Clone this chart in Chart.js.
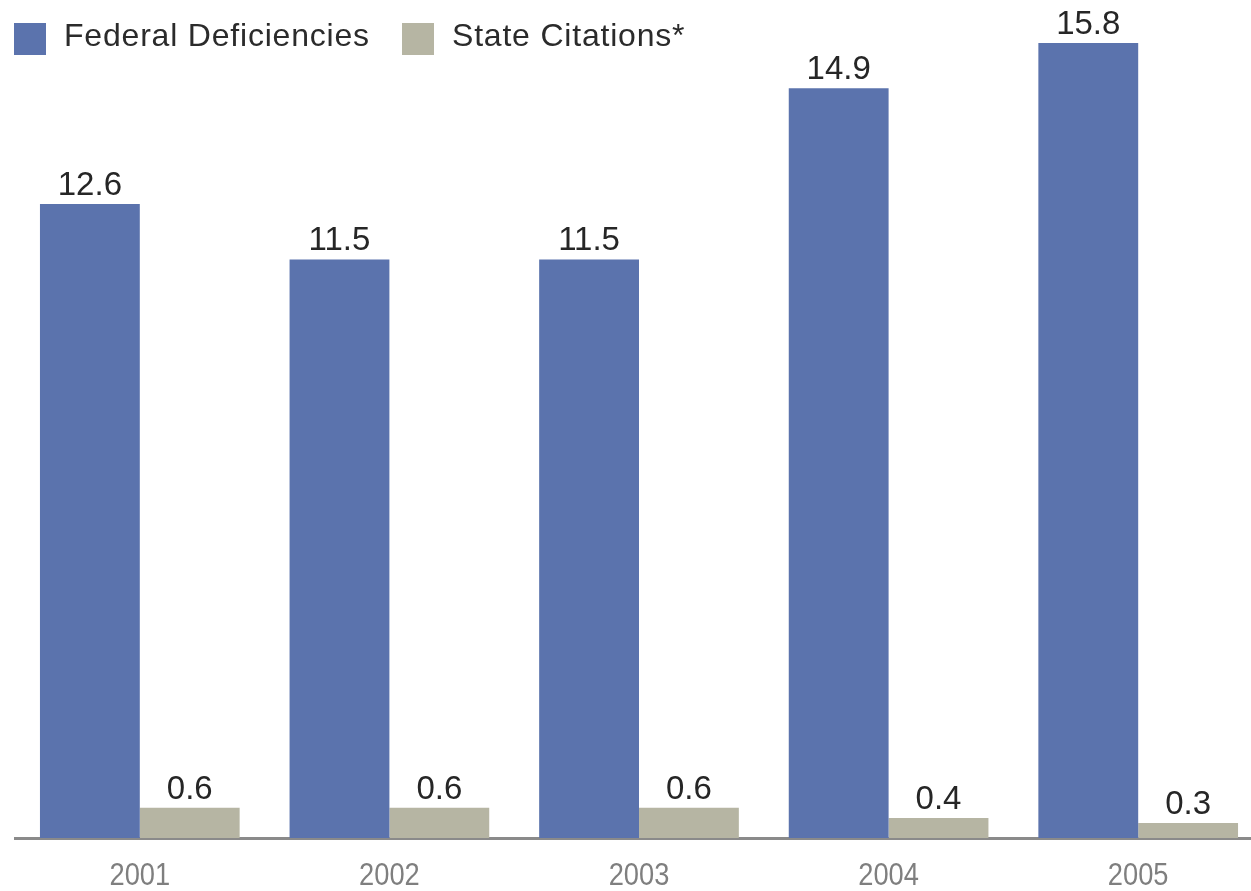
<!DOCTYPE html>
<html>
<head>
<meta charset="utf-8">
<script src="https://cdn.jsdelivr.net/npm/chart.js@4.4.0/dist/chart.umd.min.js"></script>
<style>
  html, body { margin: 0; padding: 0; background: #fff; overflow: hidden; }
  #wrap { width: 1263px; height: 891px; }
</style>
</head>
<body>
<div id="wrap"><canvas id="citations-chart"></canvas></div>
<script>
const years = ["2001", "2002", "2003", "2004", "2005"];
const federalDeficiencies = [12.6, 11.5, 11.5, 14.9, 15.8];
const stateCitations = [0.6, 0.6, 0.6, 0.4, 0.3];
const seriesNames = ["Federal Deficiencies", "State Citations*"];

const barColors = ["#5b73ad", "#b6b5a3"];

// value printed above every bar
const barValues = {
  id: "barValues",
  afterDatasetsDraw(chart) {
    const { ctx } = chart;
    ctx.save();
    ctx.textAlign = "center";
    ctx.textBaseline = "alphabetic";
    ctx.font = "33px 'Liberation Sans'";
    ctx.fillStyle = "#262626";
    chart.data.datasets.forEach((ds, i) => {
      chart.getDatasetMeta(i).data.forEach((bar, j) => {
        ctx.fillText(ds.data[j].toFixed(1), bar.x, bar.y - 9);
      });
    });
    ctx.restore();
  },
};

// year labels, squeezed a little to look condensed
const yearLabels = {
  id: "yearLabels",
  afterDraw(chart) {
    const { ctx } = chart;
    const x = chart.scales.x;
    ctx.save();
    ctx.font = "31px 'Liberation Sans'";
    ctx.fillStyle = "#7f7f7f";
    ctx.textAlign = "center";
    ctx.textBaseline = "alphabetic";
    chart.data.labels.forEach((label, i) => {
      const px = x.getPixelForTick(i);
      ctx.save();
      ctx.translate(px, 885);
      ctx.scale(0.88, 1);
      ctx.fillText(label, 0, 0);
      ctx.restore();
    });
    ctx.restore();
  },
};

// legend drawn by hand in the top-left corner
const topLegend = {
  id: "topLegend",
  afterDraw(chart) {
    const { ctx } = chart;
    const xs = [14, 402];
    ctx.save();
    ctx.font = "32px 'Liberation Sans'";
    ctx.letterSpacing = "0.8px";
    ctx.textBaseline = "middle";
    ctx.textAlign = "left";
    chart.data.datasets.forEach((ds, i) => {
      ctx.fillStyle = ds.backgroundColor;
      ctx.fillRect(xs[i], 23, 32, 32);
      ctx.fillStyle = "#2b2b2b";
      ctx.fillText(ds.label, xs[i] + 50, 37);
    });
    ctx.restore();
  },
};

new Chart(document.getElementById("citations-chart"), {
  type: "bar",
  data: {
    labels: years,
    datasets: [
      { label: seriesNames[0], data: federalDeficiencies, backgroundColor: barColors[0] },
      { label: seriesNames[1], data: stateCitations, backgroundColor: barColors[1] },
    ],
  },
  options: {
    responsive: true,
    maintainAspectRatio: false,
    animation: false,
    categoryPercentage: 0.8,
    barPercentage: 1.0,
    layout: { padding: { top: 33, left: 15, right: 0, bottom: 0 } },
    plugins: {
      legend: { display: false },
      tooltip: { enabled: false },
    },
    scales: {
      x: {
        grid: { display: false },
        border: { display: true, color: "#8a8a8a", width: 3 },
        ticks: { display: false },
        afterFit(scale) { scale.height = 53; },
      },
      y: {
        display: false,
        min: 0,
        max: 16,
      },
    },
  },
  plugins: [barValues, yearLabels, topLegend],
});
</script>
</body>
</html>
